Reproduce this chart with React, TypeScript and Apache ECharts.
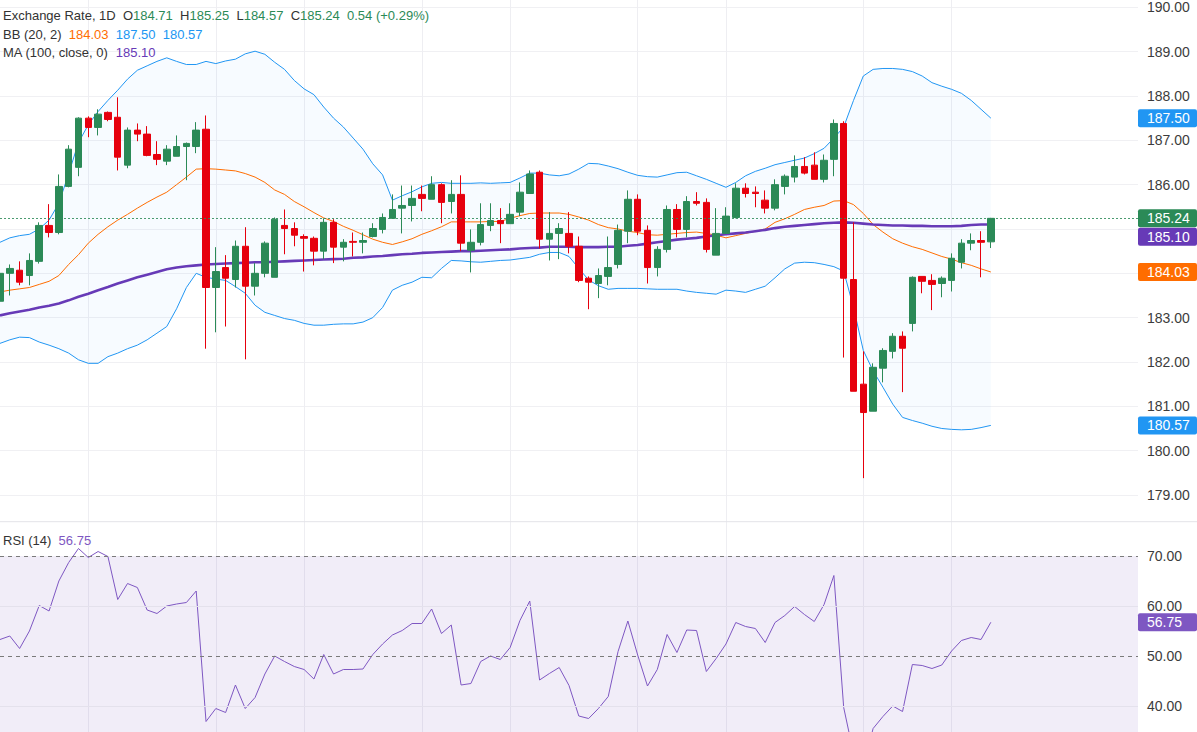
import React, { useEffect, useRef } from "react";
import * as echarts from "echarts";

const N_SLOTS = 117;
const categories: string[] = Array.from({ length: N_SLOTS }, (_, i) => `D${i + 1}`);

const opens = [183.37,184.0,184.07,183.95,184.27,185.08,184.92,185.96,186.39,187.5,
187.29,187.63,187.52,186.44,187.23,187.14,186.68,186.53,186.64,186.86,
186.86,187.25,183.68,184.13,183.86,184.61,183.71,184.0,183.91,185.08,
185.01,184.83,184.79,184.5,185.15,184.59,184.72,184.7,184.83,184.99,
185.24,185.47,185.53,185.78,185.67,186.0,185.62,185.78,184.52,184.7,
185.08,185.19,185.12,185.38,185.8,186.28,184.77,184.9,184.9,184.61,
183.89,183.77,183.93,184.2,184.95,185.67,184.97,184.13,184.54,185.44,
184.99,185.62,185.6,184.41,184.9,185.26,185.92,185.83,185.65,185.47,
185.96,186.17,186.41,186.44,186.12,186.57,187.38,183.86,181.5,180.89,
181.86,182.24,182.58,182.87,183.93,183.84,183.77,183.84,184.25,184.68,
184.74,184.71];
const closes = [184.0,184.11,183.8,184.29,185.08,184.92,185.96,186.8,187.5,187.29,
187.59,187.47,186.62,187.23,187.14,186.66,186.57,186.8,186.86,186.93,
187.23,183.68,184.04,183.89,184.61,183.71,184.0,184.68,185.22,185.01,
184.86,184.79,184.5,185.15,184.59,184.7,184.7,184.74,185.01,185.26,
185.44,185.53,185.69,185.69,186.0,185.6,185.78,184.68,184.7,185.1,
185.19,185.12,185.33,185.83,186.24,184.77,184.9,185.01,184.61,183.84,
183.8,183.95,184.13,184.97,185.67,184.95,184.13,184.54,185.44,184.99,
185.62,185.58,184.54,184.9,185.29,185.92,185.8,185.8,185.47,186.0,
186.19,186.41,186.26,186.12,186.55,187.38,183.89,181.34,180.86,181.88,
182.26,182.58,182.31,183.91,183.82,183.75,183.89,184.34,184.68,184.74,
184.7,185.24];
const lows = [183.37,183.5,183.73,183.73,184.22,184.81,184.88,185.94,186.19,187.07,
187.11,187.43,186.32,186.37,186.98,186.64,186.44,186.44,186.64,186.1,
186.71,182.3,182.67,182.8,183.68,182.06,183.5,183.91,183.91,184.43,
184.61,184.04,184.18,184.32,184.23,184.27,184.38,184.45,184.81,184.9,
185.24,184.9,185.17,185.4,185.67,185.13,185.35,184.5,184.02,184.63,
184.95,184.68,185.12,185.29,185.8,184.56,184.29,184.32,184.45,183.8,
183.19,183.44,183.73,184.11,184.68,184.86,183.77,183.93,184.47,184.81,
184.81,185.53,184.47,184.41,184.9,185.24,185.71,185.49,185.35,185.42,
185.78,186.05,186.23,186.12,186.05,186.19,182.1,181.34,179.38,180.89,
181.54,182.08,181.32,182.69,183.55,183.17,183.46,183.59,184.11,184.52,
183.91,184.57];
const highs = [184.23,184.2,184.27,184.45,185.15,185.56,186.23,186.89,187.52,187.54,
187.7,187.65,187.97,187.29,187.38,187.32,186.98,186.89,187.11,186.95,
187.41,187.56,184.59,184.41,184.74,185.04,184.23,184.72,185.26,185.44,
185.15,184.88,184.83,185.24,185.22,184.77,184.92,184.92,185.13,185.35,
185.78,185.98,185.98,185.98,186.19,186.03,186.1,186.21,184.99,185.58,
185.58,185.47,185.58,186.05,186.32,186.32,185.38,185.13,185.38,184.83,
183.93,184.11,184.83,185.1,185.87,185.78,185.08,184.61,185.53,185.56,
185.74,185.83,185.69,185.47,185.49,186.03,186.03,185.96,185.87,186.12,
186.23,186.66,186.62,186.73,186.68,187.47,187.43,185.15,182.24,181.97,
182.31,182.65,182.69,183.93,183.93,183.98,183.93,184.45,184.77,184.9,
184.95,185.25];

const bbUpper = [184.70,184.8,184.85,184.88,185.0,185.2,185.58,186.25,186.95,187.35,
187.65,187.9,188.13,188.38,188.58,188.68,188.78,188.86,188.78,188.71,
188.71,188.78,188.73,188.79,188.83,188.95,189.01,188.94,188.76,188.6,
188.35,188.16,188.03,187.75,187.5,187.3,187.05,186.8,186.47,186.22,
185.65,185.75,185.84,185.95,186.03,186.05,186.03,186.03,186.03,186.04,
186.03,186.04,186.05,186.15,186.26,186.26,186.22,186.2,186.24,186.35,
186.48,186.47,186.42,186.36,186.28,186.21,186.18,186.17,186.22,186.27,
186.28,186.2,186.12,186.03,185.94,186.05,186.2,186.3,186.37,186.45,
186.5,186.55,186.6,186.7,186.82,187.05,187.3,187.9,188.45,188.6,
188.62,188.62,188.6,188.55,188.45,188.3,188.22,188.15,188.06,187.9,
187.7,187.5];
const bbLower = [182.42,182.5,182.56,182.55,182.45,182.38,182.3,182.2,182.05,181.97,
181.97,182.12,182.2,182.3,182.38,182.5,182.65,182.8,183.2,183.68,
184.0,183.91,183.87,183.84,183.7,183.55,183.28,183.12,183.05,182.98,
182.94,182.87,182.83,182.83,182.85,182.86,182.86,182.9,183.0,183.23,
183.62,183.73,183.8,183.91,183.9,184.11,184.29,184.28,184.26,184.25,
184.27,184.29,184.3,184.33,184.36,184.43,184.47,184.47,184.38,184.11,
183.85,183.72,183.64,183.66,183.66,183.66,183.65,183.64,183.64,183.64,
183.6,183.57,183.55,183.53,183.62,183.6,183.57,183.64,183.71,183.9,
184.1,184.23,184.25,184.24,184.2,184.15,184.05,183.23,182.26,181.8,
181.43,181.05,180.75,180.68,180.62,180.55,180.5,180.48,180.47,180.48,
180.52,180.57];
const bbMid = [183.58,183.62,183.65,183.68,183.75,183.82,183.95,184.2,184.42,184.68,
184.88,185.05,185.2,185.33,185.47,185.6,185.72,185.83,186.0,186.17,
186.35,186.36,186.35,186.33,186.31,186.25,186.17,186.05,185.88,185.78,
185.62,185.5,185.37,185.25,185.17,185.06,184.97,184.87,184.77,184.7,
184.65,184.71,184.78,184.88,184.96,185.05,185.16,185.16,185.16,185.16,
185.17,185.17,185.24,185.3,185.35,185.36,185.36,185.36,185.33,185.27,
185.2,185.1,185.03,185.0,184.95,184.92,184.87,184.86,184.88,184.9,
184.92,184.93,184.9,184.86,184.8,184.85,184.9,184.95,185.0,185.15,
185.23,185.33,185.44,185.49,185.53,185.63,185.64,185.55,185.35,185.1,
184.93,184.78,184.68,184.6,184.54,184.46,184.38,184.32,184.24,184.18,
184.1,184.03];
const ma100 = [183.05,183.1,183.14,183.18,183.23,183.27,183.32,183.39,183.47,183.54,
183.62,183.69,183.77,183.84,183.91,183.97,184.03,184.09,184.13,184.16,
184.18,184.2,184.21,184.22,184.23,184.24,184.25,184.25,184.26,184.27,
184.28,184.29,184.3,184.31,184.32,184.33,184.35,184.36,184.38,184.39,
184.41,184.43,184.44,184.46,184.47,184.48,184.49,184.5,184.5,184.51,
184.52,184.53,184.54,184.56,184.57,184.58,184.6,184.6,184.6,184.59,
184.59,184.59,184.6,184.6,184.62,184.64,184.67,184.7,184.73,184.76,
184.78,184.8,184.83,184.86,184.88,184.9,184.92,184.95,184.98,185.02,
185.05,185.07,185.09,185.11,185.13,185.14,185.15,185.14,185.12,185.1,
185.09,185.08,185.08,185.07,185.07,185.06,185.06,185.06,185.07,185.09,
185.1,185.1];
const rsi = [53.3,54.0,51.5,55.0,60.1,59.0,65.0,68.7,71.5,69.7,
70.9,69.9,61.3,64.5,63.7,59.2,58.5,60.0,60.4,60.7,
63.0,36.9,39.5,38.7,44.2,39.5,41.7,46.4,50.0,48.9,
47.9,47.3,45.4,50.3,46.4,47.3,47.3,47.4,50.3,52.4,
54.2,55.1,56.5,56.5,59.4,54.5,56.2,44.2,44.5,48.9,
50.0,49.3,51.7,57.1,61.0,45.2,46.5,47.7,44.1,38.0,
37.5,39.5,41.9,50.9,57.0,50.2,44.0,47.3,54.3,50.7,
55.2,55.1,46.9,49.5,52.4,56.7,55.9,55.5,52.7,56.7,
58.1,59.9,58.3,56.9,60.3,66.1,39.7,30.5,28.0,35.5,
37.9,40.0,38.9,48.3,48.1,47.5,48.2,51.0,53.1,53.7,
53.3,56.75];

const gridlineIdx = [9, 22, 31, 43, 52, 65, 74, 88, 97];
const priceTicks = [179, 190];
const rsiView = [34.8, 76.86];
const rsiDashed = [70, 50];
const rsiSolid = [60, 40];
const rsiBand = [30, 70];

const FONT = "Liberation Sans, Arial, sans-serif";
const GREEN = "#2b8a57";
const RED = "#e6000d";
const BLUE = "#2196f3";
const ORANGE = "#ff6d00";
const PURPLE = "#673ab7";
const RSI_COLOR = "#7e57c2";
const TEXT = "#333333";
const AXIS_TEXT = "#3c3c3c";

export default function App() {
  const ref = useRef<HTMLDivElement>(null);
  useEffect(() => {
    const chart = echarts.init(ref.current!, undefined, { renderer: "svg" });
    const n = closes.length;
    const last = n - 1;
    const o = opens[last], h = highs[last], l = lows[last], c = closes[last];
    const chg = c - closes[last - 1];
    const pct = (chg / closes[last - 1]) * 100;
    const candleData = opens.map((v, i) => [v, closes[i], lows[i], highs[i]]);
    const bandWidth = bbUpper.map((v, i) => +(v - bbLower[i]).toFixed(4));

    const plotLeft = 0;
    const plotRight = 59;
    const mainTop = 7.3;
    const mainHeight = 487.7;
    const sepY = 521.7;
    const pxPerUnit = mainHeight / (priceTicks[1] - priceTicks[0]);

    const mk = (color: string) => ({ color, fontSize: 13, fontFamily: FONT, fontWeight: "normal", lineHeight: 16 });
    const rich = { t: mk(TEXT), g: mk(GREEN), o: mk(ORANGE), b: mk(BLUE), p: mk(PURPLE), r: mk(RSI_COLOR) };
    const titleBase = {
      padding: 0,
      left: 3,
      textStyle: { fontSize: 13, fontFamily: FONT, fontWeight: "normal", color: TEXT, lineHeight: 16, rich },
    };

    // values that get a coloured box on the right axis
    const boxed = [bbUpper[last], c, ma100[last], bbMid[last], bbLower[last]];

    const option: any = {
      animation: false,
      backgroundColor: "#ffffff",
      title: [
        {
          ...titleBase,
          top: 7.7,
          text: `{t|Exchange Rate, 1D}  {t|O}{g|${o.toFixed(2)}}  {t|H}{g|${h.toFixed(2)}}  {t|L}{g|${l.toFixed(2)}}  {t|C}{g|${c.toFixed(2)}}  {g|${chg.toFixed(2)} (+${pct.toFixed(2)}%)}`,
        },
        {
          ...titleBase,
          top: 26,
          text: `{t|BB (20, 2)}  {o|${bbMid[last].toFixed(2)}}  {b|${bbUpper[last].toFixed(2)}}  {b|${bbLower[last].toFixed(2)}}`,
        },
        {
          ...titleBase,
          top: 44.3,
          text: `{t|MA (100, close, 0)}  {p|${ma100[last].toFixed(2)}}`,
        },
        {
          ...titleBase,
          top: 532,
          text: `{t|RSI (14)}  {r|${rsi[last].toFixed(2)}}`,
        },
      ],
      grid: [
        { left: plotLeft, right: plotRight, top: mainTop, height: mainHeight },
        { left: plotLeft, right: plotRight, top: sepY, bottom: 0 },
        { left: plotLeft, right: plotRight, top: 0, bottom: 0 },
      ],
      xAxis: [
        { type: "category", gridIndex: 0, data: categories, boundaryGap: false, show: false },
        { type: "category", gridIndex: 1, data: categories, boundaryGap: false, show: false },
        {
          type: "category",
          gridIndex: 2,
          data: categories,
          boundaryGap: false,
          axisLine: { show: false },
          axisTick: { show: false },
          axisLabel: { show: false },
          splitLine: {
            show: true,
            interval: (idx: number) => gridlineIdx.includes(idx),
            lineStyle: { color: "#eeeef2", width: 1 },
          },
        },
      ],
      yAxis: [
        {
          type: "value",
          gridIndex: 0,
          position: "right",
          min: priceTicks[0],
          max: priceTicks[1],
          interval: 1,
          axisLine: { show: false },
          axisTick: { show: false },
          axisLabel: {
            color: AXIS_TEXT,
            fontSize: 14,
            fontFamily: FONT,
            margin: 9,
            formatter: (v: number) =>
              boxed.some((b) => Math.abs(b - v) * pxPerUnit < 14) ? "" : v.toFixed(2),
          },
          splitLine: { show: true, lineStyle: { color: "#f0f0f3", width: 1 } },
        },
        {
          type: "value",
          gridIndex: 1,
          position: "right",
          min: rsiView[0],
          max: rsiView[1],
          show: false,
          splitLine: { show: false },
        },
        { type: "value", gridIndex: 2, min: 0, max: 1, show: false },
      ],
      series: [
        {
          name: "bbBase",
          type: "line",
          xAxisIndex: 0,
          yAxisIndex: 0,
          data: bbLower,
          stack: "bb",
          symbol: "none",
          lineStyle: { opacity: 0 },
          silent: true,
          z: 1,
        },
        {
          name: "bbFill",
          type: "line",
          xAxisIndex: 0,
          yAxisIndex: 0,
          data: bandWidth,
          stack: "bb",
          symbol: "none",
          lineStyle: { opacity: 0 },
          areaStyle: { color: "rgba(33,150,243,0.05)" },
          silent: true,
          z: 1,
        },
        {
          name: "bbUpper",
          type: "line",
          xAxisIndex: 0,
          yAxisIndex: 0,
          data: bbUpper,
          symbol: "none",
          lineStyle: { color: BLUE, width: 1 },
          z: 2,
        },
        {
          name: "bbLower",
          type: "line",
          xAxisIndex: 0,
          yAxisIndex: 0,
          data: bbLower,
          symbol: "none",
          lineStyle: { color: BLUE, width: 1 },
          z: 2,
        },
        {
          name: "bbMid",
          type: "line",
          xAxisIndex: 0,
          yAxisIndex: 0,
          data: bbMid,
          symbol: "none",
          lineStyle: { color: ORANGE, width: 1 },
          z: 2,
        },
        {
          name: "ma100",
          type: "line",
          xAxisIndex: 0,
          yAxisIndex: 0,
          data: ma100,
          symbol: "none",
          lineStyle: { color: PURPLE, width: 2.6 },
          z: 2,
        },
        {
          name: "price",
          type: "candlestick",
          xAxisIndex: 0,
          yAxisIndex: 0,
          data: candleData,
          barWidth: 7,
          itemStyle: {
            color: GREEN,
            color0: RED,
            borderColor: GREEN,
            borderColor0: RED,
            borderWidth: 1,
          },
          markLine: {
            silent: true,
            symbol: ["none", "none"],
            label: { show: false },
            lineStyle: { type: [2, 2], color: GREEN, width: 1, opacity: 0.85 },
            data: [{ yAxis: c }],
          },
          z: 3,
        },
        {
          name: "rsi",
          type: "line",
          xAxisIndex: 1,
          yAxisIndex: 1,
          data: rsi,
          symbol: "none",
          lineStyle: { color: RSI_COLOR, width: 1 },
          markArea: {
            silent: true,
            itemStyle: { color: "rgba(126,87,194,0.11)" },
            data: [[{ yAxis: rsiBand[0] }, { yAxis: rsiBand[1] }]],
          },
          markLine: {
            silent: true,
            symbol: ["none", "none"],
            label: {
              show: true,
              position: "end",
              distance: 9,
              color: AXIS_TEXT,
              fontSize: 14,
              fontFamily: FONT,
              formatter: (p: any) => Number(p.value).toFixed(2),
            },
            data: [
              ...rsiDashed.map((v) => ({ yAxis: v, lineStyle: { type: [4, 4], color: "#7a7a7a", width: 1 } })),
              ...rsiSolid.map((v) => ({ yAxis: v, lineStyle: { type: "solid", color: "#e4e1ec", width: 1 } })),
            ],
          },
          z: 3,
        },
      ],
    };
    chart.setOption(option);

    const py = (idx: number, v: number) => chart.convertToPixel({ yAxisIndex: idx }, v) as number;
    const boxX = 1197 - plotRight;
    const boxW = plotRight;
    const boxH = 18;
    const mkBox = (cy: number, color: string, label: string) => ({
      type: "group",
      children: [
        { type: "rect", shape: { x: boxX, y: cy - boxH / 2, width: boxW, height: boxH, r: 2 }, style: { fill: color }, z: 100 },
        {
          type: "text",
          x: boxX + 9,
          y: cy,
          style: { text: label, fill: "#ffffff", font: `14px ${FONT}`, verticalAlign: "middle" },
          z: 101,
        },
      ],
    });
    const yClose = py(0, c);
    const yMa = Math.max(py(0, ma100[last]), yClose + boxH + 0.5);
    const graphics: any[] = [
      {
        type: "line",
        shape: { x1: 0, y1: sepY, x2: 1197, y2: sepY },
        style: { stroke: "#e3e3e8", lineWidth: 1 },
        z: 50,
      },
      mkBox(py(0, bbUpper[last]), BLUE, bbUpper[last].toFixed(2)),
      mkBox(yClose, GREEN, c.toFixed(2)),
      mkBox(yMa, PURPLE, ma100[last].toFixed(2)),
      mkBox(py(0, bbMid[last]), ORANGE, bbMid[last].toFixed(2)),
      mkBox(py(0, bbLower[last]), BLUE, bbLower[last].toFixed(2)),
      mkBox(py(1, rsi[last]), RSI_COLOR, rsi[last].toFixed(2)),
    ];
    chart.setOption({ graphic: graphics });

    return () => chart.dispose();
  }, []);
  return (
    <div
      ref={ref}
      style={{ position: "absolute", left: 0, top: 0, width: 1197, height: 732 }}
    />
  );
}
